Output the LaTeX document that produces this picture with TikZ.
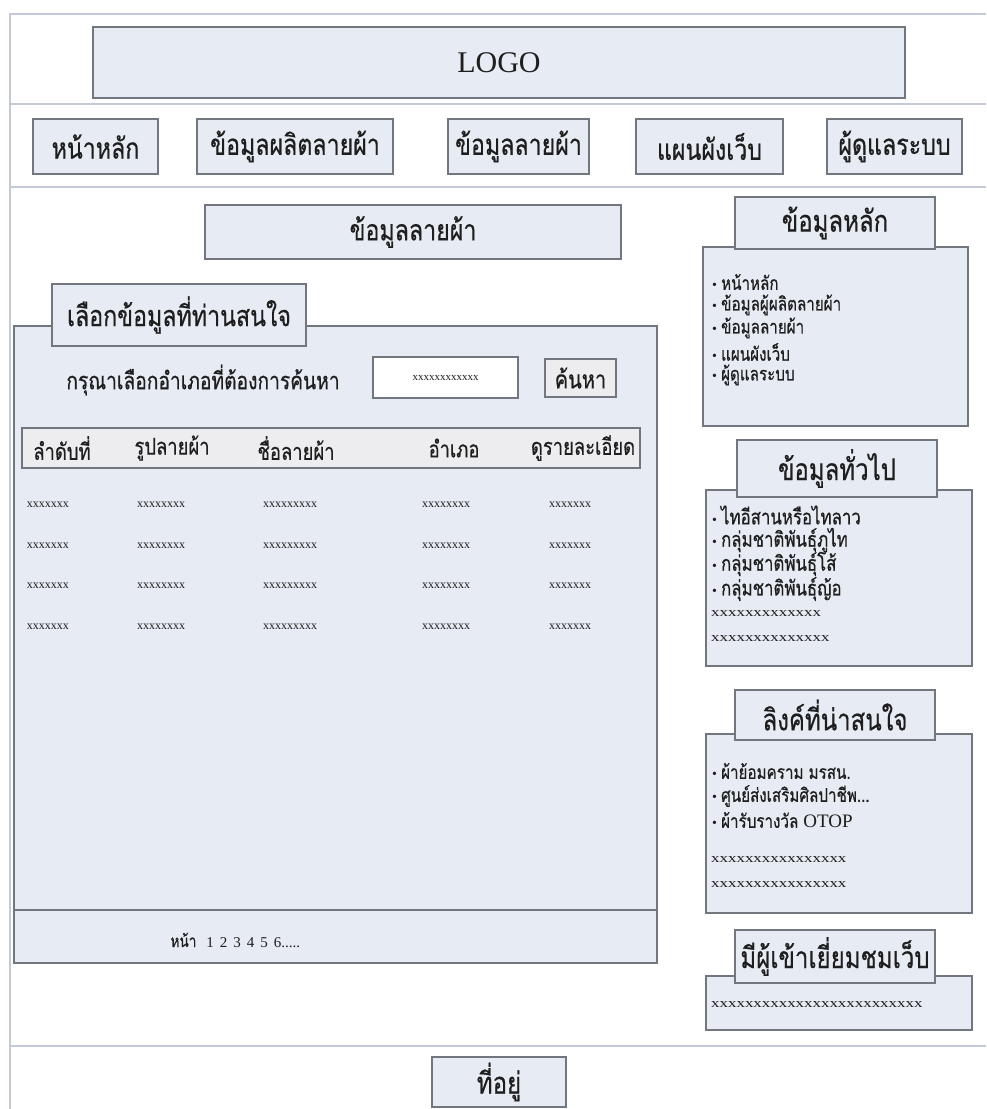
\documentclass[tikz,border=0pt]{standalone}
\usepackage{fontspec}
\setmainfont{Liberation Serif}
\newfontfamily\thai[Script=Thai,FakeStretch=0.8,FakeBold=0.5]{Loma}
\newfontfamily\widex[FakeStretch=1.3]{Liberation Serif}
\definecolor{panelfill}{HTML}{E7EBF3}
\definecolor{panelline}{HTML}{72767E}
\definecolor{frameline}{HTML}{C3C9D6}
\definecolor{headfill}{HTML}{EDEDF0}
\definecolor{inktext}{HTML}{1E1E1E}
\tikzset{
  panel/.style={draw=panelline,fill=panelfill,line width=1.3pt,inner sep=0pt,text=inktext},
  tabbox/.style={panel,line width=1.6pt},
  frame/.style={draw=frameline,line width=2pt},
  navtxt/.style={font=\thai\fontsize{29}{31}\selectfont},
  headtxt/.style={font=\thai\fontsize{30}{32}\selectfont},
  coltxt/.style={font=\thai\fontsize{23}{25}\selectfont,text=inktext},
  itemtxt/.style={font=\thai\fontsize{19}{21}\selectfont,anchor=west,inner sep=0pt,text=inktext},
  filler/.style={font=\fontsize{12}{13}\selectfont,text=inktext,inner sep=0pt},
  fillerw/.style={font=\widex\fontsize{13}{14}\selectfont,text=inktext,inner sep=0pt,anchor=west}
}
\newcommand{\bul}{{\rmfamily\fontsize{14}{14}\selectfont\textbullet}\hspace{4pt}}
\begin{document}
\begin{tikzpicture}[x=1pt,y=-1pt]
\useasboundingbox (0,0) rectangle (986,1109);
\fill[white] (0,0) rectangle (986,1109);

% page frame and band separators
\coordinate (ftl) at (10,14);
\coordinate (ftr) at (986,14);
\coordinate (fbl) at (10,1109);
\draw[frame] (fbl) -- (ftl) -- (ftr);
\coordinate (s1l) at (10,104);   \coordinate (s1r) at (986,104);
\coordinate (s2l) at (10,187);   \coordinate (s2r) at (986,187);
\coordinate (s3l) at (10,1046);  \coordinate (s3r) at (986,1046);
\draw[frame] (s1l) -- (s1r);
\draw[frame] (s2l) -- (s2r);
\draw[frame] (s3l) -- (s3r);

% header logo
\node[panel,minimum width=812pt,minimum height=71pt,font=\fontsize{30}{32}\selectfont] (logo) at (499,62.5) {LOGO};

% navigation bar
\node[panel,minimum width=125pt,minimum height=55pt,navtxt] (nav1) at (95.5,146.5) {หน้าหลัก};
\node[panel,minimum width=196pt,minimum height=55pt,navtxt] (nav2) at (295,146.5) {ข้อมูลผลิตลายผ้า};
\node[panel,minimum width=141pt,minimum height=55pt,navtxt] (nav3) at (518.5,146.5) {ข้อมูลลายผ้า};
\node[panel,minimum width=147pt,minimum height=55pt,navtxt] (nav4) at (709.5,146.5) {แผนผังเว็บ};
\node[panel,minimum width=135pt,minimum height=55pt,navtxt] (nav5) at (894.5,146.5) {ผู้ดูแลระบบ};

% page title
\node[panel,minimum width=416pt,minimum height=54pt,navtxt] (title) at (413,232) {ข้อมูลลายผ้า};

% main content panel
\node[panel,minimum width=643pt,minimum height=637pt] (main) at (335.5,644.5) {};
\coordinate (pagl) at (14,910);
\coordinate (pagr) at (657,910);
\draw[draw=panelline,line width=1.3pt] (pagl) -- (pagr);
\node[tabbox,minimum width=254pt,minimum height=62pt,headtxt,font=\thai\fontsize{29}{31}\selectfont] (maintab) at (179,315) {เลือกข้อมูลที่ท่านสนใจ};

% search row
\node[coltxt,font=\thai\fontsize{24}{26}\selectfont] (ask) at (203,380) {กรุณาเลือกอำเภอที่ต้องการค้นหา};
\node[draw=panelline,fill=white,line width=1.3pt,minimum width=145pt,minimum height=41pt,filler,font=\fontsize{11}{12}\selectfont] (field) at (445.5,377.5) {xxxxxxxxxxxx};
\node[tabbox,fill=headfill,minimum width=71pt,minimum height=38pt,coltxt,font=\thai\fontsize{25}{27}\selectfont] (find) at (580.5,378) {ค้นหา};

% table header
\node[draw=panelline,fill=headfill,line width=1.3pt,minimum width=618pt,minimum height=40pt] (thead) at (331,448) {};
\node[coltxt] (h1) at (62,448) {ลำดับที่};
\node[coltxt] (h2) at (172,448) {รูปลายผ้า};
\node[coltxt] (h3) at (296,448) {ชื่อลายผ้า};
\node[coltxt] (h4) at (454,448) {อำเภอ};
\node[coltxt] (h5) at (583,448) {ดูรายละเอียด};

% table rows
\foreach \r/\yy in {1/505,2/546,3/586,4/627}{
  \node[filler] (c\r a) at (48,\yy) {xxxxxxx};
  \node[filler] (c\r b) at (161,\yy) {xxxxxxxx};
  \node[filler] (c\r c) at (290,\yy) {xxxxxxxxx};
  \node[filler] (c\r d) at (446,\yy) {xxxxxxxx};
  \node[filler] (c\r e) at (570,\yy) {xxxxxxx};
}

% pager
\node[coltxt,font=\thai\fontsize{17}{19}\selectfont,anchor=west] (pager) at (167,940) {หน้า\hspace{10pt}{\rmfamily\fontsize{15}{16}\selectfont 1\hspace{6pt}2\hspace{6pt}3\hspace{6pt}4\hspace{6pt}5\hspace{6pt}6.....}};

% sidebar: main menu
\node[panel,minimum width=265pt,minimum height=179pt] (m1) at (835.5,336.5) {};
\node[tabbox,minimum width=200pt,minimum height=52pt,headtxt] (t1) at (835,223) {ข้อมูลหลัก};
\node[itemtxt] (m1a) at (712,282) {\bul หน้าหลัก};
\node[itemtxt] (m1b) at (712,305) {\bul ข้อมูลผู้ผลิตลายผ้า};
\node[itemtxt] (m1c) at (712,328) {\bul ข้อมูลลายผ้า};
\node[itemtxt] (m1d) at (712,352) {\bul แผนผังเว็บ};
\node[itemtxt] (m1e) at (712,375) {\bul ผู้ดูแลระบบ};

% sidebar: general information
\node[panel,minimum width=266pt,minimum height=176pt] (m2) at (839,578) {};
\node[tabbox,minimum width=200pt,minimum height=57pt,headtxt] (t2) at (837,468.5) {ข้อมูลทั่วไป};
\node[itemtxt,font=\thai\fontsize{21}{23}\selectfont] (m2a) at (712,515) {\bul ไทอีสานหรือไทลาว};
\node[itemtxt,font=\thai\fontsize{21}{23}\selectfont] (m2b) at (712,540) {\bul กลุ่มชาติพันธุ์ภูไท};
\node[itemtxt,font=\thai\fontsize{21}{23}\selectfont] (m2c) at (712,564) {\bul กลุ่มชาติพันธุ์โส้};
\node[itemtxt,font=\thai\fontsize{21}{23}\selectfont] (m2d) at (712,589) {\bul กลุ่มชาติพันธุ์ญ้อ};
\node[fillerw] (m2e) at (711,614) {xxxxxxxxxxxxx};
\node[fillerw] (m2f) at (711,639) {xxxxxxxxxxxxxx};

% sidebar: links
\node[panel,minimum width=266pt,minimum height=179pt] (m3) at (839,823.5) {};
\node[tabbox,minimum width=200pt,minimum height=50pt,headtxt] (t3) at (835,715) {ลิงค์ที่น่าสนใจ};
\node[itemtxt] (m3a) at (712,771) {\bul ผ้าย้อมคราม มรสน.};
\node[itemtxt] (m3b) at (712,796) {\bul ศูนย์ส่งเสริมศิลปาชีพ...};
\node[itemtxt] (m3c) at (712,820) {\bul ผ้ารับรางวัล {\rmfamily OTOP}};
\node[fillerw] (m3d) at (711,860) {xxxxxxxxxxxxxxxx};
\node[fillerw] (m3e) at (711,885) {xxxxxxxxxxxxxxxx};

% sidebar: visitor counter
\node[panel,minimum width=266pt,minimum height=54pt] (m4) at (839,1003) {};
\node[tabbox,minimum width=200pt,minimum height=53pt,headtxt] (t4) at (835,956.5) {มีผู้เข้าเยี่ยมชมเว็บ};
\node[fillerw] (m4a) at (711,1005) {xxxxxxxxxxxxxxxxxxxxxxxxx};

% footer
\node[panel,minimum width=134pt,minimum height=50pt,headtxt] (addr) at (499,1082) {ที่อยู่};
\end{tikzpicture}
\end{document}
